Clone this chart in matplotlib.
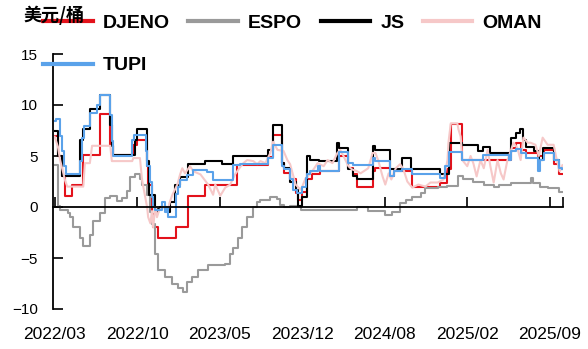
import numpy as np
import matplotlib
matplotlib.use("Agg")
import matplotlib.pyplot as plt
from matplotlib import font_manager

# x = observation number (trading days since 2022/03)
tick_idx = [0, 150, 300, 450, 600, 750, 900]
tick_labels = ["2022/03", "2022/10", "2023/05", "2023/12", "2024/08", "2025/02", "2025/09"]
x_end = 924

djeno_x = [0, 6, 13, 19, 32, 52, 83, 101, 106, 143, 150, 168, 170, 177, 179, 188, 221, 243, 274,
           332, 387, 397, 414, 416, 428, 438, 443, 450, 459, 468, 483, 516, 534, 543, 550, 578,
           583, 610, 616, 650, 701, 714, 720, 741, 829, 838, 847, 856, 878, 889, 907, 916, 923]
djeno_y = [7.0, 5.0, 3.0, 1.1, 2.2, 5.1, 9.1, 6.1, 5.1, 6.1, 6.6, 4.0, 2.2, -0.7, -2.0, -3.0, -2.0,
           1.1, 2.2, 4.1, 4.9, 7.1, 4.3, 3.3, 2.7, 1.4, 0.7, 1.5, 2.7, 3.2, 3.5, 5.0, 3.8, 3.2,
           2.0, 3.5, 3.8, 3.0, 3.5, 2.0, 2.4, 3.7, 8.1, 4.6, 5.8, 6.3, 5.6, 5.3, 5.0, 5.6, 4.2,
           3.2, 3.2]

espo_x = [0, 6, 10, 24, 28, 33, 46, 52, 64, 70, 83, 92, 101, 114, 123, 132, 137, 146, 155, 159,
          168, 174, 177, 183, 188, 201, 214, 225, 234, 241, 250, 261, 279, 310, 319, 325, 334,
          341, 350, 361, 368, 374, 392, 405, 410, 416, 428, 447, 510, 550, 570, 601, 614, 628,
          638, 650, 665, 674, 696, 714, 734, 743, 761, 780, 798, 807, 829, 865, 869, 883, 896,
          916, 923]
espo_y = [4.1, 0.1, -0.3, -0.6, -1.0, -2.0, -3.0, -3.8, -2.7, -1.4, -0.6, 0.9, 1.1, 0.6, 0.9,
          1.6, 2.9, 3.2, 2.7, 2.2, 1.2, -0.5, -1.7, -4.6, -6.2, -6.9, -7.5, -7.9, -8.3, -7.4,
          -6.9, -6.2, -5.7, -5.6, -4.6, -4.0, -3.0, -2.0, -1.0, 0.0, 0.5, 0.7, 1.0, 0.8, 0.2,
          0.0, 0.1, -0.3, -0.3, 0.0, -0.4, -0.75, -0.5, 0.4, 0.7, 1.0, 1.4, 1.9, 2.0, 2.1, 3.0,
          2.7, 2.5, 2.2, 2.0, 2.2, 2.35, 2.8, 2.35, 2.0, 1.9, 1.5, 1.5]

js_x = [0, 6, 13, 46, 52, 64, 83, 101, 104, 106, 146, 150, 168, 172, 183, 188, 192, 205, 210,
        219, 228, 243, 274, 305, 325, 387, 397, 414, 416, 428, 438, 443, 450, 459, 465, 480,
        514, 516, 534, 543, 550, 578, 583, 610, 632, 647, 701, 716, 741, 769, 778, 792, 829,
        838, 845, 851, 856, 871, 880, 887, 907, 916, 923]
js_y = [7.5, 5.0, 3.0, 6.6, 7.6, 9.6, 11.0, 8.0, 6.0, 5.1, 6.6, 7.6, 4.5, 1.2, -0.55, -0.2, 0.0,
        -0.5, 0.5, 2.2, 2.9, 4.2, 4.5, 4.2, 5.0, 5.6, 8.0, 4.3, 3.8, 2.5, 1.7, 0.1, 1.0, 5.0,
        4.6, 4.5, 6.3, 5.8, 3.7, 3.0, 2.7, 6.0, 5.6, 3.7, 4.8, 3.7, 3.2, 6.3, 6.1, 5.5, 5.9,
        5.3, 6.8, 7.3, 7.6, 6.6, 5.9, 5.5, 4.6, 5.8, 4.6, 3.7, 3.7]

oman_x = [0, 6, 10, 19, 23, 52, 55, 64, 68, 101, 104, 141, 143, 155, 159, 168, 170, 174, 177,
          179, 183, 186, 190, 199, 205, 210, 214, 223, 228, 232, 237, 246, 252, 265, 279, 288,
          292, 301, 310, 319, 328, 337, 343, 350, 361, 368, 374, 383, 392, 397, 401, 405, 416,
          423, 428, 434, 438, 447, 450, 456, 465, 472, 478, 489, 496, 505, 514, 519, 525, 534,
          540, 550, 556, 570, 578, 583, 588, 596, 601, 607, 612, 620, 628, 634, 641, 650, 661,
          674, 683, 696, 707, 714, 716, 720, 732, 734, 738, 741, 750, 756, 761, 767, 774, 780,
          787, 792, 798, 805, 811, 816, 823, 829, 834, 841, 847, 852, 860, 865, 874, 880, 887,
          896, 907, 912, 918, 923]
oman_y = [6.9, 5.9, 4.6, 2.6, 2.0, 2.0, 4.3, 4.3, 6.0, 6.0, 4.5, 4.5, 4.8, 4.8, 2.6, 0.0, -1.0,
          -1.6, -0.4, -2.0, 0.0, -1.0, -0.3, 0.0, -0.4, 0.6, 1.2, 2.2, 3.2, 3.8, 3.3, 4.0, 3.5,
          3.2, 2.2, 1.2, 2.2, 1.1, 1.9, 2.2, 3.2, 3.9, 4.3, 4.6, 4.5, 4.2, 4.5, 4.3, 5.3, 6.4,
          6.0, 5.6, 5.5, 4.6, 4.2, 3.0, 2.2, 1.7, 2.0, 2.8, 3.3, 3.8, 4.3, 4.0, 4.6, 4.3, 5.3,
          5.6, 5.0, 4.0, 3.7, 3.5, 3.3, 3.8, 5.3, 5.3, 4.6, 3.0, 2.2, 3.3, 2.7, 3.8, 4.2, 3.7,
          2.5, 1.9, 2.2, 2.0, 2.4, 2.4, 2.7, 4.6, 6.4, 8.2, 8.2, 7.6, 6.9, 4.6, 4.0, 5.0, 4.3,
          3.0, 4.6, 3.8, 5.6, 4.0, 2.4, 4.6, 3.3, 2.7, 4.6, 5.5, 6.3, 5.8, 4.6, 6.8, 6.3, 6.3,
          6.1, 5.0, 6.8, 6.1, 6.1, 4.8, 3.5, 4.1]

tupi_x = [0, 3, 10, 13, 17, 21, 46, 50, 54, 64, 77, 83, 101, 104, 106, 141, 145, 166, 168, 174,
          177, 179, 183, 195, 201, 205, 206, 221, 225, 228, 241, 252, 277, 288, 325, 337, 387,
          397, 414, 416, 428, 434, 441, 450, 456, 459, 465, 478, 483, 516, 534, 543, 578, 583,
          610, 616, 632, 650, 701, 710, 716, 741, 778, 825, 829, 838, 847, 856, 878, 883, 889,
          907, 916, 923]
tupi_y = [8.4, 8.6, 7.0, 5.5, 4.0, 3.2, 4.5, 6.8, 7.9, 9.2, 10.0, 11.0, 9.0, 6.5, 5.0, 6.6, 7.1,
          5.5, 4.0, 2.5, 1.0, 0.0, -0.3, 0.5, -0.5, 0.0, -1.0, 1.3, 2.0, 2.6, 3.1, 3.6, 3.4,
          2.6, 4.1, 4.2, 4.8, 6.1, 4.0, 3.7, 2.7, 1.7, 1.4, 2.0, 2.8, 3.2, 3.5, 4.0, 3.5, 5.4,
          4.3, 4.15, 4.8, 4.5, 3.0, 3.5, 3.7, 3.2, 2.8, 4.0, 5.4, 4.6, 5.1, 4.6, 5.5, 5.7, 5.3,
          4.8, 3.5, 4.6, 5.3, 4.6, 3.8, 3.7]

names = {f.name for f in font_manager.fontManager.ttflist}
if "Liberation Sans Narrow" in names:
    leg_font = dict(family="Liberation Sans Narrow", weight="bold", size=15.5)
else:
    leg_font = dict(family="Liberation Sans", weight="bold", size=14)

fig = plt.figure(figsize=(5.88, 3.49), dpi=100)
ax = fig.add_axes([53 / 588, 1 - 309 / 349, 510 / 588, 255 / 349])

h_dj, = ax.plot(djeno_x, djeno_y, drawstyle="steps-post", color="#e3121b", lw=1.5, label="DJENO")
h_es, = ax.plot(espo_x, espo_y, drawstyle="steps-post", color="#9a9a9a", lw=1.5, label="ESPO")
h_js, = ax.plot(js_x, js_y, drawstyle="steps-post", color="#000000", lw=1.5, label="JS")
h_om, = ax.plot(oman_x, oman_y, color="#f6c8c8", lw=1.5, label="OMAN")
h_tu, = ax.plot(tupi_x, tupi_y, drawstyle="steps-post", color="#5aa2ea", lw=1.5, label="TUPI")

ax.set_xlim(-3, x_end)
ax.set_ylim(-10, 15)
ax.spines["top"].set_visible(False)
ax.spines["right"].set_visible(False)
ax.spines["bottom"].set_position(("data", 0))
ax.spines["bottom"].set_linewidth(1.3)
ax.spines["left"].set_linewidth(1.3)
ax.set_xticks(tick_idx + [x_end])
ax.set_xticklabels([])
ax.set_yticks([-10, -5, 0, 5, 10, 15])
ax.tick_params(axis="x", direction="in", length=7, width=1.2)
ax.tick_params(axis="y", direction="in", length=7, width=1.2, pad=11, labelsize=11)
for t in ax.get_yticklabels():
    t.set_fontfamily("Liberation Sans")

# date labels along the bottom edge
ax2 = ax.twiny()
ax2.set_xlim(ax.get_xlim())
ax2.xaxis.tick_bottom()
ax2.set_xticks(tick_idx)
ax2.set_xticklabels(tick_labels, fontsize=12.5, family="Liberation Sans")
ax2.tick_params(axis="x", length=0, pad=13)
for s in ax2.spines.values():
    s.set_visible(False)

handles = [h_dj, h_tu, h_es, h_js, h_om]
leg = fig.legend(handles, [h.get_label() for h in handles], ncol=4, loc="upper left",
                 bbox_to_anchor=(43 / 588, 1 - 14 / 349), frameon=False, borderpad=0,
                 borderaxespad=0, handlelength=2.55, handletextpad=0.52, columnspacing=0.95,
                 labelspacing=1.3, prop=leg_font)
for ln in leg.get_lines():
    ln.set_linewidth(3)

fig.text(23 / 588, 1 - 15.5 / 349, "美元/桶", ha="left", va="center", fontsize=13,
         family=["Noto Sans CJK SC", "DejaVu Sans"], weight="bold", zorder=10)

fig.savefig("out.png", dpi=100)
